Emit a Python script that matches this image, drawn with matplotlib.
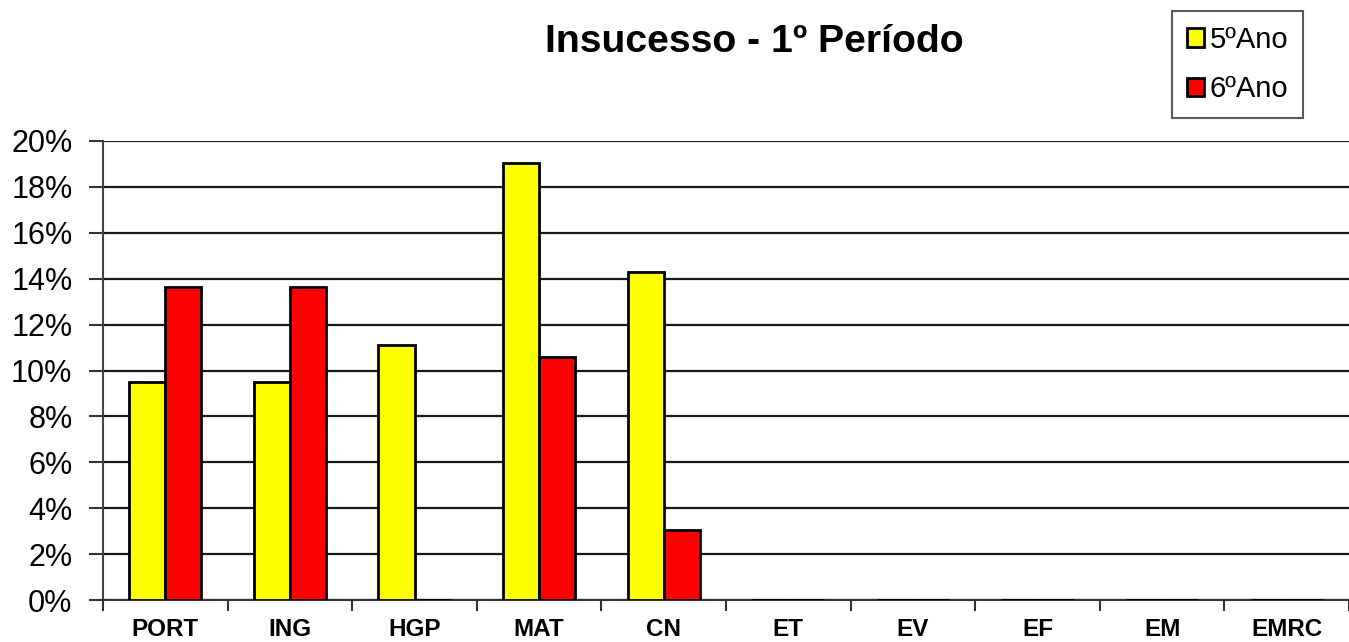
import matplotlib
matplotlib.use("Agg")
import matplotlib.pyplot as plt
import numpy as np
from matplotlib.ticker import FuncFormatter

categories = ["PORT", "ING", "HGP", "MAT", "CN", "ET", "EV", "EF", "EM", "EMRC"]
ano5 = [9.52, 9.52, 11.11, 19.05, 14.29, 0, 0, 0, 0, 0]
ano6 = [13.64, 13.64, 0, 10.57, 3.03, 0, 0, 0, 0, 0]
series_labels = ["5ºAno", "6ºAno"]
title = "Insucesso - 1º Período"

plt.rcParams['font.family'] = ['Liberation Sans', 'DejaVu Sans']

fig = plt.figure(figsize=(13.49, 6.42), dpi=100)
ax = fig.add_axes([103/1349, 1-600/642, 1-103/1349, (600-141)/642])

x = np.arange(len(categories))
w = 0.29
ax.bar(x - w/2, ano5, w, color="#FFFF00", edgecolor="black", linewidth=2, label=series_labels[0], zorder=3)
ax.bar(x + w/2, ano6, w, color="#FF0000", edgecolor="black", linewidth=2, label=series_labels[1], zorder=3)

ax.set_ylim(0, 20)
ax.set_yticks(np.arange(0, 21, 2))
ax.yaxis.set_major_formatter(FuncFormatter(lambda v, p: f"{int(v)}%"))
ax.set_xlim(-0.5, -0.5 + 9.88)
ax.set_xticks(x)
ax.set_xticklabels(categories, fontsize=17.5, fontweight="bold",
                   family=['Liberation Sans Narrow', 'Liberation Sans', 'DejaVu Sans'])
ax.set_xticks(np.arange(-0.5, 10, 1), minor=True)
ax.tick_params(axis="x", which="major", length=0, pad=13)
ax.tick_params(axis="x", which="minor", length=8, width=1.5, color="#333333", direction="out")
ax.tick_params(axis="y", labelsize=22, length=10, width=1.5, color="#333333", direction="out", pad=12)

ax.yaxis.grid(True, color="#1a1a1a", linewidth=1.6, zorder=0)
for s in ["top", "right"]:
    ax.spines[s].set_visible(False)
ax.spines["left"].set_color("#444444")
ax.spines["left"].set_linewidth(1.5)
ax.spines["bottom"].set_color("#333333")
ax.spines["bottom"].set_linewidth(1.5)

fig.text(754/1349, 1-42/642, title, fontsize=28.2, fontweight="bold", ha="center", va="center")

leg = fig.legend(loc="upper left", bbox_to_anchor=(1172/1349, 1-11/642), fontsize=21,
                 frameon=True, fancybox=False, edgecolor="#333333", handlelength=0.6,
                 handleheight=0.6, handletextpad=0.2, borderpad=0.5, labelspacing=0.75,
                 borderaxespad=0)
leg.get_frame().set_linewidth(1.5)

fig.savefig("out.png", dpi=100)
